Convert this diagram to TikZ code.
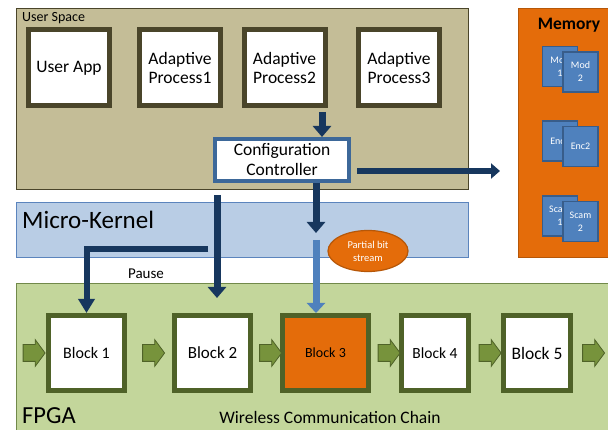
\documentclass[tikz,border=0pt]{standalone}
\usepackage{fontspec}
\setmainfont{Carlito}
\usetikzlibrary{arrows.meta,calc,shapes.arrows,shapes.geometric}

\definecolor{usfill}{HTML}{C4BD97}
\definecolor{usline}{HTML}{4A452A}
\definecolor{kernfill}{HTML}{B9CDE5}
\definecolor{kernline}{HTML}{5B84BD}
\definecolor{fpgafill}{HTML}{C3D69B}
\definecolor{fpgaline}{HTML}{71894A}
\definecolor{blkline}{HTML}{4F6228}
\definecolor{grnarr}{HTML}{77933C}
\definecolor{orng}{HTML}{E46C0A}
\definecolor{orngline}{HTML}{B65708}
\definecolor{memblue}{HTML}{4F81BD}
\definecolor{memline}{HTML}{385D8A}
\definecolor{darkarr}{HTML}{17375E}
\definecolor{cfgline}{HTML}{3D6899}

\tikzset{
  layer/.style={line width=1pt, anchor=north west, inner sep=0pt},
  lbl/.style={anchor=west, inner sep=0pt},
  procbox/.style={draw=usline, line width=5pt, fill=white, minimum width=81pt, minimum height=76pt,
    inner sep=0pt, align=center, font=\fontsize{17.5}{19}\selectfont},
  blockbox/.style={draw=blkline, line width=5pt, minimum height=75pt, inner sep=0pt},
  chainarrow/.style={single arrow, draw=blkline, fill=grnarr, line width=0.8pt, inner xsep=0pt, inner ysep=8pt,
    minimum height=22pt, single arrow head extend=5pt, single arrow tip angle=107},
  memcard/.style={draw=memline, fill=memblue, line width=1.2pt, minimum width=35pt, minimum height=40pt,
    inner sep=0pt, align=center, text=white, font=\fontsize{10}{13}\selectfont},
  ctrlarrow/.style={draw=darkarr, line width=7pt, -{Triangle[width=18pt,length=11pt]}},
  bitarrow/.style={draw=memblue, line width=7pt, -{Triangle[width=18pt,length=10pt]}},
}

\begin{document}
\begin{tikzpicture}[x=1pt,y=-1pt]
  \clip (0,0) rectangle (608,430);
  \def\blky{353}; % row of the chain blocks

  % the three layers and the memory
  \node[layer, draw=usline, fill=usfill, minimum width=452pt, minimum height=181pt] (us) at (15.5,8.5) {};
  \node[layer, draw=kernline, fill=kernfill, minimum width=452pt, minimum height=55pt] (mk) at (15.5,202.5) {};
  \node[layer, draw=fpgaline, fill=fpgafill, minimum width=620pt, minimum height=160pt] (fpga) at (15.5,283.5) {};
  \node[layer, draw=orngline, fill=orng, minimum width=100pt, minimum height=249pt] (mem) at (517.5,8.5) {};

  \node[lbl, font=\fontsize{14}{14}\selectfont] (uslbl) at (22,18) {User Space};
  \node[lbl, font=\fontsize{25}{25}\selectfont] (mklbl) at (22,220) {Micro-Kernel};
  \node[lbl, font=\fontsize{24.5}{24.5}\selectfont] (fpgalbl) at (22,416) {FPGA};
  \node[font=\bfseries\fontsize{17.5}{17.5}\selectfont] (memlbl) at (569,25) {Memory};

  % user space processes
  \foreach \n/\cx/\txt in {app/69/User App, ap1/180/{Adaptive\\Process1},
      ap2/284.5/{Adaptive\\Process2}, ap3/399/{Adaptive\\Process3}} {
    \node[procbox] (\n) at (\cx,68) {\txt};
  }
  \node[draw=cfgline, line width=4pt, fill=white, minimum width=134pt, minimum height=42pt, inner sep=0pt,
    align=center, font=\fontsize{17.5}{20}\selectfont] (cfg) at (282,160) {Configuration\\Controller};

  % stored bitstreams, back card first
  \foreach \k/\yy/\ta/\tb in {mod/66.5/{Mod\\1}/{Mod\\2}, enc/141/Enc1/Enc2, scam/216/{Scam\\1}/{Scam\\2}} {
    \node[memcard] (\k1) at (560,\yy) {\ta};
    \node[memcard] (\k2) at (580.5,\yy+5.5) {\tb};
  }

  % chain blocks
  \foreach \n/\cx/\w/\fs/\fc in {1/86.5/81/16/white, 2/212.5/81/17/white, 3/325.5/91/14/orng,
      4/435/72/15.5/white, 5/537/72/17.5/white} {
    \node[blockbox, minimum width=\w-5, fill=\fc, font=\fontsize{\fs}{\fs}\selectfont] (b\n) at (\cx,\blky) {Block \n};
  }
  \node[chainarrow] (gin) at ([xshift=-15pt]b1.west) {};
  \foreach \a/\b in {b1/b2, b2/b3, b3/b4, b4/b5} {
    \node[chainarrow] (g\a) at ($(\a.east)!0.5!(\b.west)+(1,0)$) {};
  }
  \node[chainarrow] (gout) at ([xshift=17.5pt]b5.east) {};
  \node[font=\fontsize{17.5}{17.5}\selectfont] (chain) at (330,417) {Wireless Communication Chain};

  % control arrows
  \coordinate (c2top) at (322,112);
  \draw[ctrlarrow] (c2top) -- (c2top |- cfg.north);
  \coordinate (tomem) at (357,171);
  \coordinate (memin) at (500,171);
  \draw[ctrlarrow, line width=6pt, -{Triangle[width=15pt,length=9pt]}] (tomem) -- (memin);
  \coordinate (down) at (316,233);
  \draw[ctrlarrow] (cfg.south -| down) -- (down);
  \coordinate (k2s) at (217,195);
  \coordinate (k2e) at (217,298);
  \draw[ctrlarrow] (k2s) -- (k2e);
  \coordinate (pz) at (208,249);
  \draw[ctrlarrow, line width=6pt, -{Triangle[width=16pt,length=14pt]}] (pz) -| (b1.north);
  \node[font=\fontsize{15}{15}\selectfont] (pause) at (146,274) {Pause};

  % partial bitstream download
  \coordinate (bitin) at (316,240);
  \draw[bitarrow] (bitin) -- (bitin |- b3.north);
  \node[ellipse, draw=orngline, fill=orng, line width=1.2pt, minimum width=80pt, minimum height=41pt,
    inner sep=0pt, align=center, text=white, font=\fontsize{10.5}{13}\selectfont] (pbs) at (368,251) {Partial bit\\stream};
\end{tikzpicture}
\end{document}
